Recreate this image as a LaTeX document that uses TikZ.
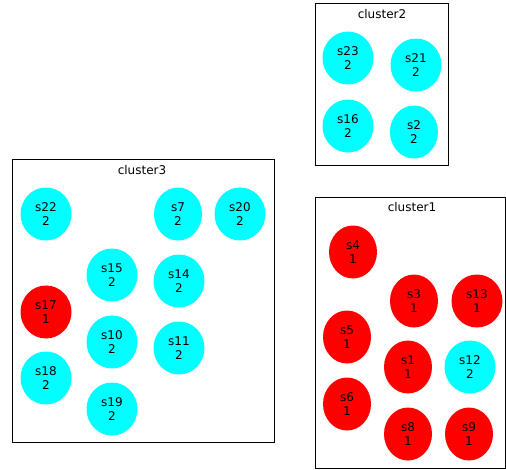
\documentclass[tikz,border=0pt]{standalone}
\usepackage{fontspec}
\setmainfont{DejaVu Sans}
\usetikzlibrary{shapes.geometric}
\definecolor{cy}{RGB}{0,255,255}
\definecolor{rd}{RGB}{255,0,0}
\begin{document}
\begin{tikzpicture}[x=1pt,y=-1pt,
  nd/.style={ellipse,inner sep=0pt,minimum height=53pt,align=center,
    font=\fontsize{12}{14}\selectfont},
  c2/.style={nd,fill=cy},
  c1/.style={nd,fill=rd},
  wa/.style={minimum width=51pt},
  wb/.style={minimum width=48pt},
  cbox/.style={draw=black,line width=0.9pt},
  ctitle/.style={font=\fontsize{12}{14}\selectfont,inner sep=0pt}]
\useasboundingbox (0,0) rectangle (506,469);
% cluster2
\draw[cbox] (315,3) rectangle (448,165);
\node[ctitle] (t2) at (382,14) {cluster2};
\node[c2,wa] (s23) at (348,58) {s23\\2};
\node[c2,wa] (s21) at (416,65) {s21\\2};
\node[c2,wa] (s16) at (348,126) {s16\\2};
\node[c2,wb] (s2) at (414,132) {s2\\2};
% cluster1
\draw[cbox] (315,197) rectangle (505,468);
\node[ctitle] (t1) at (412,207) {cluster1};
\node[c1,wb] (s4) at (353,252) {s4\\1};
\node[c1,wb] (s3) at (414,301) {s3\\1};
\node[c1,wa] (s13) at (477,301) {s13\\1};
\node[c1,wb] (s5) at (347,337) {s5\\1};
\node[c1,wb] (s1) at (408,367) {s1\\1};
\node[c2,wa] (s12) at (470,367) {s12\\2};
\node[c1,wb] (s6) at (347,404) {s6\\1};
\node[c1,wb] (s8) at (408,434) {s8\\1};
\node[c1,wb] (s9) at (469,434) {s9\\1};
% cluster3
\draw[cbox] (12,159) rectangle (274,442);
\node[ctitle] (t3) at (142,170) {cluster3};
\node[c2,wa] (s22) at (46,214) {s22\\2};
\node[c2,wb] (s7) at (178,214) {s7\\2};
\node[c2,wa] (s20) at (240,214) {s20\\2};
\node[c2,wa] (s15) at (112,275) {s15\\2};
\node[c2,wa] (s14) at (179,281) {s14\\2};
\node[c1,wa] (s17) at (46,312) {s17\\1};
\node[c2,wa] (s10) at (112,342) {s10\\2};
\node[c2,wa] (s11) at (179,348) {s11\\2};
\node[c2,wa] (s18) at (46,378) {s18\\2};
\node[c2,wa] (s19) at (112,409) {s19\\2};
\end{tikzpicture}
\end{document}
